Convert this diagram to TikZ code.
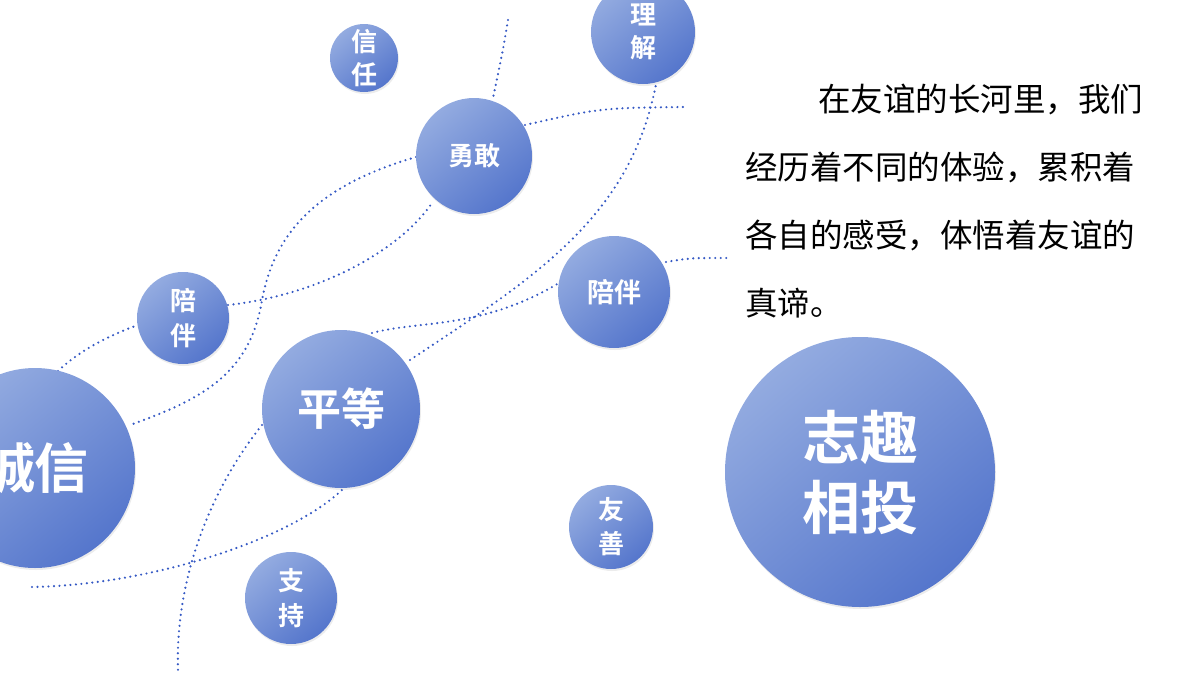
\documentclass[tikz,border=0pt]{standalone}
\usepackage{fontspec}
\setmainfont{Noto Sans CJK SC}
\newfontfamily\boldcjk{Noto Sans CJK SC Bold}
\usetikzlibrary{positioning}
\usetikzlibrary{shadows}
\definecolor{bublight}{HTML}{93ABE0}
\definecolor{bubdark}{HTML}{5576CC}
\definecolor{dotblue}{HTML}{3559C4}

\begin{document}
\begin{tikzpicture}[ x = 1pt, y = -1pt
                     , bubble/.style = { circle
                                       , inner sep = 0pt
                                       , top color = bublight
                                       , bottom color = bubdark
                                       , shading angle = 40
                                       , text = white
                                       , align = center
                                       , font = \boldcjk
                                       , drop shadow = {opacity = 0.15, shadow xshift = 1pt, shadow yshift = -2pt}
                                       }
                     , link/.style = { line width = 2.4pt, line cap = round, dash pattern = on 0pt off 5.5pt, dotblue }
                     ]
  \useasboundingbox (0,0) rectangle (1200,675);
  \clip (0,0) rectangle (1200,675);

  %%
  %% Connectors (behind)
  %%
  \coordinate (ta) at (508,20);
  \coordinate (tb) at (683,107);
  \coordinate (tc) at (727,258);
  \coordinate (td) at (32,587);
  \coordinate (te) at (178,670);

  \draw[link] (ta) .. controls (503,50) .. (493,98);
  \draw[link] (525,125) .. controls (600,108) .. (tb);
  \draw[link] (416,157) .. controls (320,185) and (275,230) .. (262,300)
              .. controls (250,375) and (200,400) .. (130,425);
  \draw[link] (228,305) .. controls (320,295) and (400,250) .. (432,203);
  \draw[link] (58,371) .. controls (80,350) and (110,335) .. (138,325);
  \draw[link] (372,333) .. controls (420,320) and (480,330) .. (559,283);
  \draw[link] (410,360) .. controls (530,280) and (630,220) .. (656,84);
  \draw[link] (666,262) .. controls (690,258) .. (tc);
  \draw[link] (td) .. controls (150,585) and (290,540) .. (343,489);
  \draw[link] (262,425) .. controls (210,490) and (175,580) .. (te);

  %%
  %% Bubbles
  %%
  \node (xinren)  [bubble, minimum size = 68pt, font = \boldcjk\fontsize{26}{33}\selectfont] at (364,58) {信\\任};
  \node (lijie)   [bubble, minimum size = 104pt, font = \boldcjk\fontsize{26}{33}\selectfont] at (643,32) {理\\解};
  \node (yonggan) [bubble, minimum size = 116pt, font = \boldcjk\fontsize{26}{30}\selectfont] at (474,156) {勇敢};
  \node (peiban)  [bubble, minimum size = 92pt, font = \boldcjk\fontsize{26}{35}\selectfont] at (183,318) {陪\\伴};
  \node (peibanr) [bubble, minimum size = 112pt, font = \boldcjk\fontsize{27}{30}\selectfont] at (614,292) {陪伴};
  \node (pingdeng)[bubble, minimum size = 158pt, font = \boldcjk\fontsize{44}{50}\selectfont] at (341,409) {平等};
  \node (chengxin)[bubble, minimum size = 200pt, font = \boldcjk\fontsize{54}{60}\selectfont] at (35,468) {诚信};
  \node (zhiqu)   [bubble, minimum size = 270pt, font = \boldcjk\fontsize{58}{70}\selectfont] at (860,472) {志趣\\相投};
  \node (youshan) [bubble, minimum size = 84pt, font = \boldcjk\fontsize{26}{34}\selectfont] at (611,527) {友\\善};
  \node (zhichi)  [bubble, minimum size = 92pt, font = \boldcjk\fontsize{26}{35}\selectfont] at (291,598) {支\\持};

  %%
  %% Paragraph
  %%
  \node (para) [anchor = north west, align = left, inner sep = 0pt,
                font = \fontsize{32.5}{68}\selectfont] at (745,84)
    {\hspace*{73pt}在友谊的长河里，我们\\
     经历着不同的体验，累积着\\
     各自的感受，体悟着友谊的\\
     真谛。};
\end{tikzpicture}
\end{document}
